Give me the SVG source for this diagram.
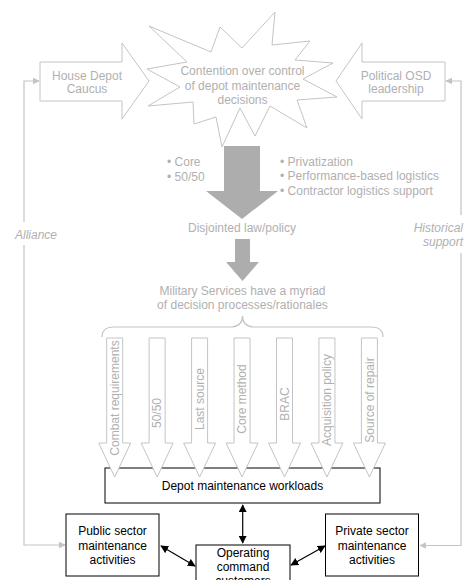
<svg xmlns="http://www.w3.org/2000/svg" width="466" height="580" viewBox="0 0 466 580">
  <style>
    .soft { fill: #fff; stroke: #c4c4c4; stroke-width: 1; }
    .gtxt { font-family: "Liberation Sans", Arial, sans-serif; font-size: 12px; fill: #b0b0b0; }
    .btxt { font-family: "Liberation Sans", Arial, sans-serif; font-size: 12px; fill: #000; }
    .mid { text-anchor: middle; }
    .box { fill: #fff; stroke: #000; stroke-width: 1; }
    .fb { fill: none; stroke: #c4c4c4; stroke-width: 1.2; }
    .link { fill: none; stroke: #000; stroke-width: 1.2; }
  </style>
  <defs>
    <marker id="grayHead" viewBox="0 0 10 10" refX="9" refY="5" markerWidth="7" markerHeight="7" markerUnits="userSpaceOnUse" orient="auto">
      <path d="M0,0 L10,5 L0,10 z" fill="#c4c4c4"/>
    </marker>
    <marker id="blackHead" viewBox="0 0 10 10" refX="9" refY="5" markerWidth="8" markerHeight="8" markerUnits="userSpaceOnUse" orient="auto-start-reverse">
      <path d="M0,0 L10,5 L0,10 z" fill="#000"/>
    </marker>
  </defs>

  <!-- feedback lines and links -->
  <g id="connectors">
    <path class="fb" d="M24,222 V81 H39" marker-end="url(#grayHead)"/>
    <path class="fb" d="M24,245 V545 H65" marker-end="url(#grayHead)"/>
    <path class="fb" d="M461,215 V81 H446" marker-end="url(#grayHead)"/>
    <path class="fb" d="M461,253 V545.5 H420" marker-end="url(#grayHead)"/>
    <text class="gtxt" x="15" y="239" font-style="italic">Alliance</text>
    <text class="gtxt" x="463" y="232" font-style="italic" text-anchor="end">Historical</text>
    <text class="gtxt" x="463" y="246" font-style="italic" text-anchor="end">support</text>

    <!-- big grey arrow -->
    <path d="M224,146 H260 V191 H278 L242,219 L206,191 H224 z" fill="#adadad"/>
    <!-- small grey arrow -->
    <path d="M235,239 H250 V262 H259 L242.5,281 L226,262 H235 z" fill="#adadad"/>

    <path class="link" d="M242.7,505 V543" marker-start="url(#blackHead)" marker-end="url(#blackHead)"/>
    <path class="link" d="M161,546 L195,566" marker-start="url(#blackHead)" marker-end="url(#blackHead)"/>
    <path class="link" d="M291,565 L325,546" marker-start="url(#blackHead)" marker-end="url(#blackHead)"/>
  </g>

  <g id="house-depot">
    <path class="soft" d="M40,62 H122 V43 L149,81 L122,119 V101 H40 z"/>
    <text class="gtxt mid" x="87" y="79.5">House Depot</text>
    <text class="gtxt mid" x="87" y="93">Caucus</text>
  </g>

  <g id="political-osd">
    <path class="soft" d="M445,62 H362 V43 L336,81 L362,119 V101 H445 z"/>
    <text class="gtxt mid" x="396" y="79.5">Political OSD</text>
    <text class="gtxt mid" x="396" y="93">leadership</text>
  </g>

  <g id="contention">
    <path class="soft" d="M149,26 L211,52 L220,27 L242,48 L275,12 L272,45 L310,41 L295,60 L333,63 L303,79 L337,97 L297,100 L307,128 L270,106 L255,136 L240,108 L222,147 L216,117 L194,124 L193,102 L148,106 L180,87 L147,69 L187,62 z"/>
    <text class="gtxt mid" x="242.5" y="75">Contention over control</text>
    <text class="gtxt mid" x="242.5" y="89.5">of depot maintenance</text>
    <text class="gtxt mid" x="242.5" y="104">decisions</text>
  </g>

  <g id="law-lists">
    <text class="gtxt" x="167" y="166">• Core</text>
    <text class="gtxt" x="167" y="180.5">• 50/50</text>
    <text class="gtxt" x="280" y="166">• Privatization</text>
    <text class="gtxt" x="280" y="180.3">• Performance-based logistics</text>
    <text class="gtxt" x="280" y="194.6">• Contractor logistics support</text>
  </g>

  <g id="disjointed">
    <text class="gtxt mid" x="242" y="231.5">Disjointed law/policy</text>
  </g>

  <g id="military-services">
    <text class="gtxt mid" x="242.5" y="295">Military Services have a myriad</text>
    <text class="gtxt mid" x="242.5" y="308.5">of decision processes/rationales</text>
    <path d="M102,337 Q102,327 114,327 L232,327 Q242.5,326 242.5,316 Q242.5,326 253,327 L371,327 Q383,327 383,337" fill="none" stroke="#c4c4c4" stroke-width="1.2"/>
  </g>

  <g id="depot-workloads">
    <rect class="box" x="105" y="468" width="275" height="35"/>
    <text class="btxt mid" x="242.5" y="490">Depot maintenance workloads</text>
  </g>

  <!-- seven rationale arrows feeding the workloads box -->
  <g id="rationales">
    <g id="r-combat" transform="translate(114.7,0)">
      <path class="soft" d="M-8,338 H8 V443 H16 L0,477 L-16,443 H-8 z"/>
      <text class="gtxt mid" transform="translate(0,398) rotate(-90)" y="4.3">Combat requirements</text>
    </g>
    <g id="r-5050" transform="translate(157.15,0)">
      <path class="soft" d="M-8,338 H8 V443 H16 L0,477 L-16,443 H-8 z"/>
      <text class="gtxt mid" transform="translate(0,413) rotate(-90)" y="4.3">50/50</text>
    </g>
    <g id="r-last" transform="translate(199.6,0)">
      <path class="soft" d="M-8,338 H8 V443 H16 L0,477 L-16,443 H-8 z"/>
      <text class="gtxt mid" transform="translate(0,399) rotate(-90)" y="4.3">Last source</text>
    </g>
    <g id="r-core" transform="translate(242.05,0)">
      <path class="soft" d="M-8,338 H8 V443 H16 L0,477 L-16,443 H-8 z"/>
      <text class="gtxt mid" transform="translate(0,399) rotate(-90)" y="4.3">Core method</text>
    </g>
    <g id="r-brac" transform="translate(284.5,0)">
      <path class="soft" d="M-8,338 H8 V443 H16 L0,477 L-16,443 H-8 z"/>
      <text class="gtxt mid" transform="translate(0,404) rotate(-90)" y="4.3">BRAC</text>
    </g>
    <g id="r-acq" transform="translate(326.95,0)">
      <path class="soft" d="M-8,338 H8 V443 H16 L0,477 L-16,443 H-8 z"/>
      <text class="gtxt mid" transform="translate(0,400) rotate(-90)" y="4.3">Acquisition policy</text>
    </g>
    <g id="r-source" transform="translate(369.4,0)">
      <path class="soft" d="M-8,338 H8 V443 H16 L0,477 L-16,443 H-8 z"/>
      <text class="gtxt mid" transform="translate(0,400) rotate(-90)" y="4.3">Source of repair</text>
    </g>
  </g>

  <g id="public-sector">
    <rect class="box" x="66" y="514" width="93" height="62"/>
    <text class="btxt mid" x="112.5" y="535">Public sector</text>
    <text class="btxt mid" x="112.5" y="549.5">maintenance</text>
    <text class="btxt mid" x="112.5" y="564">activities</text>
  </g>

  <g id="operating-command">
    <rect class="box" x="196" y="545" width="94" height="45"/>
    <text class="btxt mid" x="243" y="557">Operating</text>
    <text class="btxt mid" x="243" y="571">command</text>
    <text class="btxt mid" x="243" y="585">customers</text>
  </g>

  <g id="private-sector">
    <rect class="box" x="325.5" y="514" width="93" height="62"/>
    <text class="btxt mid" x="372" y="535">Private sector</text>
    <text class="btxt mid" x="372" y="549.5">maintenance</text>
    <text class="btxt mid" x="372" y="564">activities</text>
  </g>
</svg>
